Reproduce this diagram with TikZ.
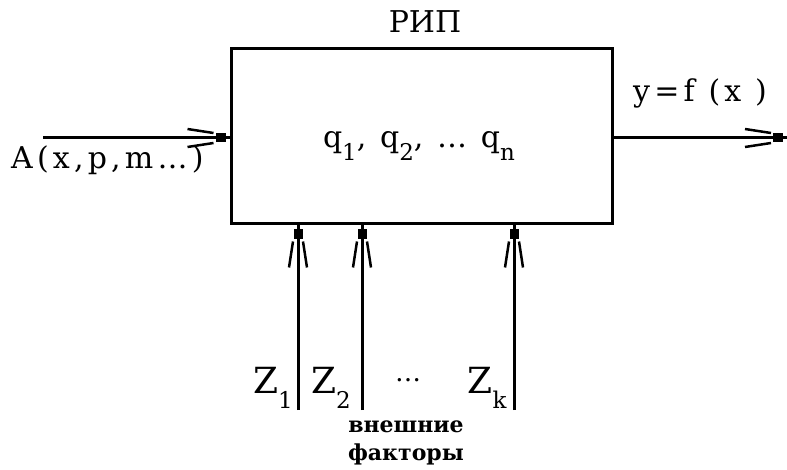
\documentclass[tikz,border=0pt]{standalone}
\usepackage{fontspec}
\setmainfont{DejaVu Serif}
\newfontfamily\widefam[LetterSpace=14]{DejaVu Serif}
\newcommand\lsub[1]{\raisebox{-0.42em}{\fontsize{23}{23}\selectfont #1}}
\begin{document}
\begin{tikzpicture}[x=1pt,y=-1pt,
  lw/.style={line width=3pt},
  txt/.style={inner sep=0pt,font=\fontsize{30}{32}\selectfont},
  wide/.style={inner sep=0pt,font=\widefam\fontsize{30}{32}\selectfont},
  tip/.pic={
    \fill (-14,-4.5) rectangle (-4,4.5);
    \draw[line width=2.5pt] (-5,0) -- (0,0);
    \draw[line width=2.5pt] (-16,5) -- (-42,9);
    \draw[line width=2.5pt] (-16,-5) -- (-42,-9);
  }]
\useasboundingbox (0,0) rectangle (787,470);
% main block
\node[draw,lw,minimum width=381pt,minimum height=175pt,inner sep=0pt] (box) at (421.5,136.5) {};
\node[txt] (title) at (425,22) {РИП};
\node[wide] (params) at (419,146) {q\lsub{1}, q\lsub{2}, … q\lsub{n}};
% input
\coordinate (in) at (43,138);
\draw[lw] (in) -- (box.west |- in);
\pic at (box.west |- in) {tip};
\node[wide,anchor=west] (inlab) at (11,160) {A(x,p,m…)};
% output
\coordinate (out) at (787,138);
\draw[lw] (box.east |- out) -- (out);
\pic at (out) {tip};
\node[wide] (outlab) at (700,93) {y=f (x )};
% external factors
\foreach \n/\x in {1/298,2/362,3/514}{
  \coordinate (z\n) at (\x,410);
  \draw[lw] (z\n) -- (box.south -| z\n);
  \pic[rotate=90] at (box.south -| z\n) {tip};
}
\node[txt,font=\fontsize{36}{38}\selectfont] (Z1) at (273,388) {Z\lsub{1}};
\node[txt,font=\fontsize{36}{38}\selectfont] (Z2) at (331,388) {Z\lsub{2}};
\node[txt,font=\fontsize{26}{26}\selectfont] (zdots) at (408,380) {…};
\node[txt,font=\bfseries\fontsize{22}{28}\selectfont,align=center] (ext) at (406,443) {внешние\\факторы};
\node[txt,font=\fontsize{36}{38}\selectfont] (Zk) at (487,388) {Z\lsub{k}};
\end{tikzpicture}
\end{document}
